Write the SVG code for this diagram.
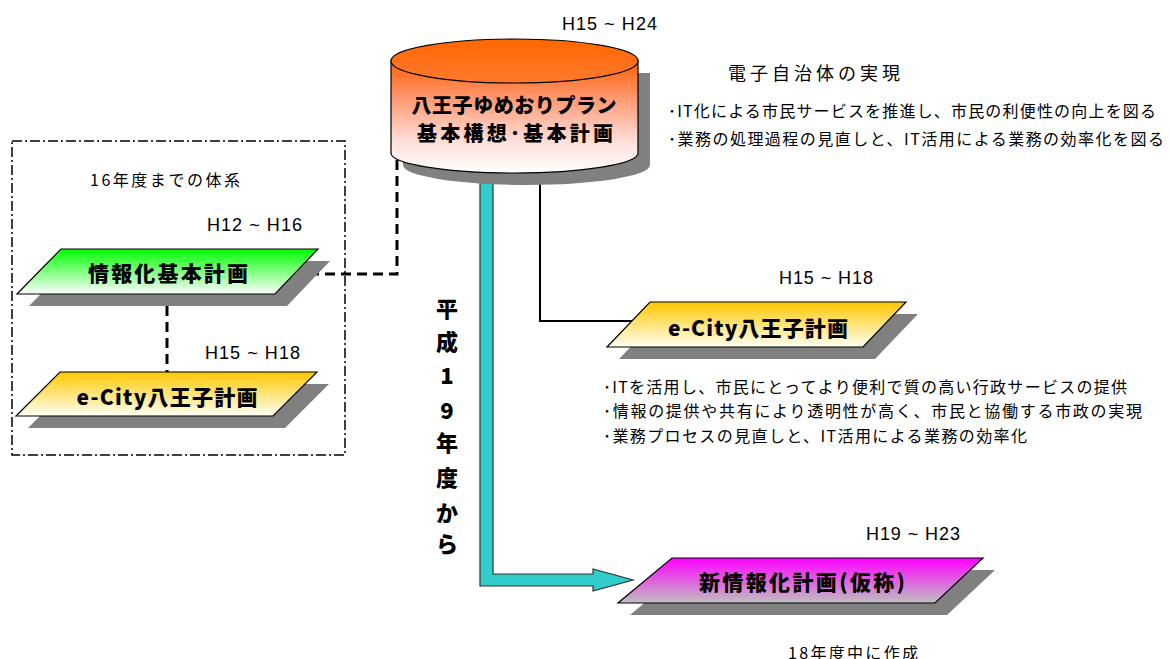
<svg xmlns="http://www.w3.org/2000/svg" width="1169" height="659" viewBox="0 0 1169 659">
<defs>
<linearGradient id="gCyl" x1="0" y1="0" x2="0" y2="1">
<stop offset="0" stop-color="#FF6000"/>
<stop offset="0.3" stop-color="#FF9268"/>
<stop offset="0.7" stop-color="#FFDCD6"/>
<stop offset="1" stop-color="#FFFFFF"/>
</linearGradient>
<linearGradient id="gTop" x1="0" y1="0" x2="0" y2="1">
<stop offset="0" stop-color="#FF6600"/>
<stop offset="1" stop-color="#FF7A30"/>
</linearGradient>
<linearGradient id="gGreen" x1="0" y1="0" x2="0" y2="1">
<stop offset="0" stop-color="#00FF00"/>
<stop offset="1" stop-color="#FFFFFF"/>
</linearGradient>
<linearGradient id="gOrange" x1="0" y1="0" x2="0" y2="1">
<stop offset="0" stop-color="#FFC800"/>
<stop offset="1" stop-color="#FFFFF5"/>
</linearGradient>
<linearGradient id="gMag" x1="0" y1="0" x2="0" y2="1">
<stop offset="0" stop-color="#FF00FF"/>
<stop offset="1" stop-color="#C0C0C0"/>
</linearGradient>
</defs>
<style>
.lat{font-family:"Liberation Sans",Arial,sans-serif;font-size:18px;fill:#000}
.jp{font-family:"Noto Sans CJK JP",sans-serif;fill:#000}
.b{font-weight:900}
.shadow{fill:#808080;stroke:none}
.node{stroke:#000;stroke-width:1.2}
.dash{fill:none;stroke:#000;stroke-width:3;stroke-dasharray:10,6}
.solid{fill:none;stroke:#000;stroke-width:2}
</style>
<rect width="1169" height="659" fill="#fff"/>

<g id="frame">
<rect x="12" y="141" width="333" height="314" fill="none" stroke="#000" stroke-width="1.5" stroke-dasharray="10,3,2,3"/>
<text class="jp" x="90" y="186" font-size="16" textLength="150" lengthAdjust="spacing">16年度までの体系</text>
</g>

<g id="connectors">
<path class="dash" d="M397,160 L397,274 L300,274"/>
<path class="dash" d="M167,290 L167,376"/>
<path class="solid" d="M540,170 L540,321 L634,321"/>
<path d="M480,170 L493,170 L493,574 L593,574 L593,569 L633,580 L593,591 L593,586 L480,586 Z" fill="#33CCCC" stroke="#333" stroke-width="1.2"/>
</g>

<g id="plan">
<path class="shadow" d="M403,73 L403,165 A123.5,20 0 0 0 650,165 L650,73 Z"/>
<path class="node" d="M391,61 L391,153 A123.5,20 0 0 0 638,153 L638,61 Z" fill="url(#gCyl)"/>
<ellipse class="node" cx="514.5" cy="61" rx="123.5" ry="22" fill="url(#gTop)"/>
<text class="jp b" x="514" y="113" font-size="20" text-anchor="middle" textLength="205" lengthAdjust="spacing">八王子ゆめおりプラン</text>
<text class="jp b" x="515" y="141" font-size="20" text-anchor="middle" textLength="196" lengthAdjust="spacing">基本構想･基本計画</text>
<text class="lat" x="562" y="30" textLength="95" lengthAdjust="spacing">H15 ~ H24</text>
</g>

<g id="plan-desc">
<text class="jp" x="728" y="80" font-size="18" textLength="172" lengthAdjust="spacing">電子自治体の実現</text>
<text class="jp" x="668" y="117" font-size="16" textLength="488" lengthAdjust="spacing">･IT化による市民サービスを推進し、市民の利便性の向上を図る</text>
<text class="jp" x="668" y="145" font-size="16" textLength="496" lengthAdjust="spacing">･業務の処理過程の見直しと、IT活用による業務の効率化を図る</text>
</g>

<g id="johoka">
<polygon class="shadow" points="73,261 330,261 287,306 29,306"/>
<polygon class="node" points="61,249 318,249 275,294 17,294" fill="url(#gGreen)"/>
<text class="jp b" x="168" y="281" font-size="21" text-anchor="middle" textLength="160" lengthAdjust="spacing">情報化基本計画</text>
<text class="lat" x="207" y="231" textLength="95" lengthAdjust="spacing">H12 ~ H16</text>
</g>

<g id="ecity-left">
<polygon class="shadow" points="72,384 329,384 285,428 28,428"/>
<polygon class="node" points="60,372 317,372 273,416 16,416" fill="url(#gOrange)"/>
<text class="jp b" x="167" y="405" font-size="21" text-anchor="middle" textLength="181" lengthAdjust="spacing">e-City八王子計画</text>
<text class="lat" x="205" y="359" textLength="95" lengthAdjust="spacing">H15 ~ H18</text>
</g>

<g id="ecity-right">
<polygon class="shadow" points="662,314 918,314 875,359 619,359"/>
<polygon class="node" points="650,302 906,302 863,347 607,347" fill="url(#gOrange)"/>
<text class="jp b" x="758" y="336" font-size="21" text-anchor="middle" textLength="180" lengthAdjust="spacing">e-City八王子計画</text>
<text class="lat" x="779" y="284" textLength="94" lengthAdjust="spacing">H15 ~ H18</text>
<text class="jp" x="603" y="393" font-size="16" textLength="524" lengthAdjust="spacing">･ITを活用し、市民にとってより便利で質の高い行政サービスの提供</text>
<text class="jp" x="603" y="417" font-size="16" textLength="539" lengthAdjust="spacing">･情報の提供や共有により透明性が高く、市民と協働する市政の実現</text>
<text class="jp" x="603" y="442" font-size="16" textLength="424" lengthAdjust="spacing">･業務プロセスの見直しと、IT活用による業務の効率化</text>
</g>

<g id="from-h19">
<text class="jp b" x="447" y="317" font-size="22" text-anchor="middle">平</text>
<text class="jp b" x="447" y="350" font-size="22" text-anchor="middle">成</text>
<text class="jp b" x="447" y="384" font-size="22" text-anchor="middle">1</text>
<text class="jp b" x="447" y="419" font-size="22" text-anchor="middle">9</text>
<text class="jp b" x="447" y="451" font-size="22" text-anchor="middle">年</text>
<text class="jp b" x="447" y="486" font-size="22" text-anchor="middle">度</text>
<text class="jp b" x="447" y="521" font-size="22" text-anchor="middle">か</text>
<text class="jp b" x="447" y="552" font-size="22" text-anchor="middle">ら</text>
</g>

<g id="new-plan">
<polygon class="shadow" points="684,570 995,570 947,615 630,615"/>
<polygon class="node" points="672,558 983,558 935,603 618,603" fill="url(#gMag)"/>
<text class="jp b" x="802" y="590" font-size="21" text-anchor="middle" textLength="206" lengthAdjust="spacing">新情報化計画(仮称)</text>
<text class="lat" x="866" y="540" textLength="94" lengthAdjust="spacing">H19 ~ H23</text>
<text class="jp" x="788" y="659" font-size="16" textLength="130" lengthAdjust="spacing">18年度中に作成</text>
</g>
</svg>
